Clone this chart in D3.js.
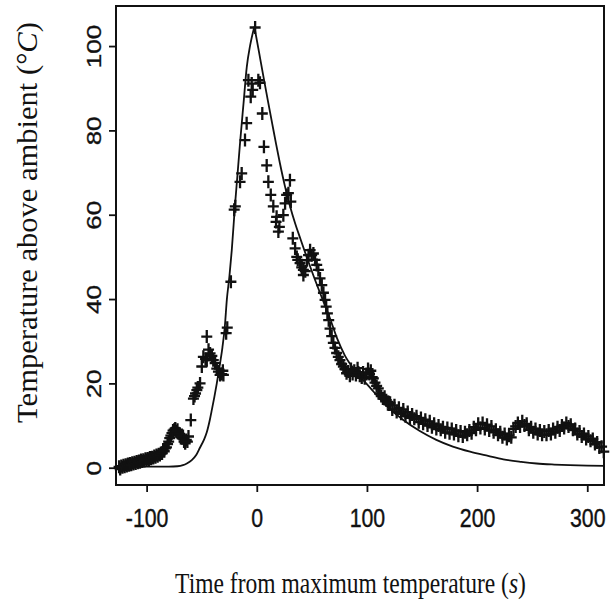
<!DOCTYPE html>
<html><head><meta charset="utf-8">
<script src="https://cdn.jsdelivr.net/npm/d3@7"></script>
<style>html,body{margin:0;padding:0;background:#fff;} svg{display:block}</style>
</head><body>
<svg id="chart" width="613" height="612"></svg>
<script>
// ---- data ----
const xTicks = [-100, 0, 100, 200, 300];
const yTicks = [0, 20, 40, 60, 80, 100];
const xTitleText = "Time from maximum temperature (";
const xTitleVar = "s";
const yTitleText = "Temperature above ambient (°";
const yTitleVar = "C";

// observed temperatures: [time (s), temperature above ambient (°C)]
const observedPre = [
  [-125,0.2],[-124,-0.3],[-123,0.4],[-122,0.1],[-121,0.6],[-120,0.2],[-119,0.7],[-118,0.4],[-117,0.9],[-116,0.6],
  [-115,1.0],[-114,0.7],[-113,1.2],[-112,0.9],[-111,1.3],[-110,1.0],[-109,1.5],[-108,1.2],[-107,1.6],[-106,1.3],
  [-105,1.8],[-104,1.5],[-103,1.9],[-102,1.6],[-101,2.1],[-100,1.8],[-99,2.2],[-98,1.9],[-97,2.4],[-96,2.1],
  [-95,2.5],[-94,2.3],[-93,2.8],[-92,2.5],[-91,3.0],[-90,2.7],[-89,3.2],[-88,3.0],[-87,3.5],[-86,3.4],
  [-85,4.0],[-84,3.9],[-83,4.6],[-82,4.8],[-81,5.6],[-80,6.2],[-79,7.0],[-78,7.6],[-77,8.2],[-76,8.8],
  [-75,9.0],[-74,9.3],[-73,8.6],[-72,9.0],[-71,8.2],[-70,8.0],[-69,7.6],[-68,7.0],[-67,7.5],[-66,6.2],
  [-65,5.8],[-64,6.6],[-63,6.2],[-62,7.4],[-59.9,11.3],[-57.5,16.4],[-56.5,17.0],[-55.6,17.6],[-54.4,18.4],[-53.5,19.0],
  [-51.5,20.0],[-49.9,24.0],[-48.5,26.3],[-46.5,25.8],[-45.4,25.5],[-45.4,31.1],[-43.8,28.0],[-42.4,27.1],[-40.8,26.5],[-39.5,25.5],
  [-37.8,24.8],[-36.3,23.5],[-34.8,22.8],[-33.3,22.0],[-31.8,22.2],[-30.8,23.0],[-30.3,22.0],[-27.8,31.9],[-26.8,33.2],[-23.5,44.1],
  [-20.5,61.2],[-19.5,62.0],[-15.2,67.8],[-13.7,69.8],[-10.7,77.7],[-9.2,81.7],[-7.6,91.9],[-5.5,88.0],[-4.6,91.1],[-3.7,89.6]
];
const observedPost = [
  [-1.5,104.4],[1.4,91.9],[2.9,91.3],[5,84.0],[6.5,76.1],[9,71.7],[10.5,67.8],[12.7,64.7],[15,62.0],[17.5,58.3],
  [18,59.5],[19.6,56.0],[20.5,57.1],[24.1,59.9],[25.7,62.7],[27.1,64.7],[28.7,65.1],[30.1,68.2],[30.9,63.1],[32.7,54.4],
  [34.8,52.0],[36.3,50.0],[37.2,49.3],[39.3,48.5],[40.8,47.5],[42.3,46.9],[42.3,45.7],[44,46.6],[45.6,49.2],[47,50.4],
  [48.4,51.6],[49.8,50.4],[51.4,50.8],[52.9,49.3],[54.4,48.1],[55.9,46.9],[57.4,44.9],[59,43.3],[60.5,41.5],[62,39.8],
  [63,38.2],[64.1,36.6],[65.3,35.0],[66.5,33.0],[68,31.2],[69.5,29.6],[71,28.4],[72.5,27.2],[74,26.3],[75.5,25.5],
  [77,24.6],[78.6,24.0],[80,23.4],[81.5,22.4],[83.1,22.8],[84.5,21.8],[85.5,23.4],[87,22.2],[88.5,23.0],[90,22.0],
  [91.5,23.6],[92.2,22.6],[93.5,21.8],[95.3,21.4],[96.5,22.6],[98,21.2],[99.5,22.2],[101,23.4],[102.3,22.2],[103.5,23.0],
  [104.8,21.5],[105.8,21.2],[107.3,20.2],[108.8,19.4],[110.3,18.8],[111.5,17.6],[113,17.0],[114.5,16.4],[116,16.8],[117.5,16.0],
  [119,15.6],[120,15.0]
];
const observedTail = [
  [121,15.4],[123,13.8],[125,14.8],[127,13.2],[129,14.2],[131,12.8],[133,13.8],[135,12.2],[137,13.2],[139,11.8],
  [141,12.6],[143,11.6],[145,12.2],[147,10.8],[149,11.8],[151,10.4],[153,11.4],[155,10.0],[157,11.0],[159,9.6],
  [161,10.4],[163,9.2],[165,10.0],[167,9.0],[169,9.6],[171,8.4],[173,9.4],[175,8.2],[177,9.2],[179,8.0],
  [181,8.8],[183,7.6],[185,8.6],[187,7.4],[189,8.4],[191,7.8],[193,8.8],[195,8.2],[197,9.6],[199,9.0],
  [201,10.4],[203,9.4],[205,10.6],[207,9.2],[209,10.2],[211,8.8],[213,9.8],[215,8.4],[217,9.0],[219,7.8],
  [221,8.4],[223,7.2],[225,8.0],[227,6.8],[229,7.6],[231,7.2],[233,9.2],[235,9.8],[237,10.6],[239,9.8],
  [241,11.0],[243,10.0],[245,10.4],[247,9.0],[249,9.6],[251,8.4],[253,9.2],[255,8.0],[257,8.8],[259,7.8],
  [261,8.6],[263,7.8],[265,8.8],[267,8.0],[269,9.2],[271,8.4],[273,9.6],[275,8.8],[277,10.0],[279,9.4],
  [281,10.6],[283,9.8],[285,10.2],[287,9.0],[289,9.2],[291,8.0],[293,8.6],[295,7.4],[297,8.0],[299,6.8],
  [301,7.4],[303,6.4],[305,6.8],[307,5.6],[309,6.0],[311,4.8],[313,5.0],[315,3.8]
];

// fitted model curve: [time (s), temperature (°C)]
const fitted = [
  [-128,0.25],[-100,0.25],[-80,0.27],[-72,0.35],[-67,0.6],[-63.5,1.0],[-59,1.8],[-55,3.0],[-51.5,4.8],[-48,6.6],
  [-45.4,8.4],[-42.5,11.5],[-40.8,13.7],[-38.5,16.8],[-36.3,20.0],[-33.5,24.5],[-31.2,28.5],[-29,33.5],[-27.2,39.8],[-24.8,45.5],
  [-22.7,51.6],[-19.7,62.5],[-17.5,69.5],[-15.2,77.0],[-12,86.5],[-9.1,95.0],[-6,100.2],[-2.2,104.6],
  [2,98.6],[6,92.8],[10.1,87.0],[14,81.6],[17.5,76.8],[21,72.2],[25.7,66.6],[30,62.2],[35,57.8],[39.3,54.5],
  [45,50.2],[51.4,45.6],[59,40.4],[66.5,35.4],[73,30.6],[80,26.6],[90.7,22.6],[102.8,19.0],[115,15.4],[133,11.3],
  [148,8.7],[163,6.6],[178,5.0],[193.6,3.8],[210,2.8],[223.8,2.0],[240,1.4],[254,1.0],[270,0.75],[284,0.6],
  [300,0.5],[316,0.45]
];

// ---- drawing ----
const observed = observedPre.concat(observedPost, observedTail);
const svg = d3.select("#chart");
svg.append("rect").attr("width",613).attr("height",612).attr("fill","#fff");

const L=116, R=604, T=6, B=485;
const x = d3.scaleLinear().domain([-127.8, 315.2]).range([L, R]);
const y = d3.scaleLinear().domain([-4.1, 109.5]).range([B, T]);
const ink = "#111";

// x axis
const gx = svg.append("g").attr("transform", `translate(0,${B})`)
  .call(d3.axisBottom(x).tickValues(xTicks).tickSize(7).tickSizeOuter(0).tickFormat(d => String(d)));
gx.select(".domain").remove();
gx.selectAll(".tick line").attr("stroke", ink).attr("stroke-width", 1.8);
gx.selectAll(".tick text")
  .attr("y", 42).attr("dy", null)
  .attr("transform", "scale(0.82,1)")
  .attr("fill", ink).attr("stroke", ink).attr("stroke-width", 0.4)
  .style("font-family", "'Liberation Sans', Arial, sans-serif")
  .style("font-size", "26px");

// y axis
const gy = svg.append("g").attr("transform", `translate(${L},0)`)
  .call(d3.axisLeft(y).tickValues(yTicks).tickSize(7).tickSizeOuter(0).tickFormat(d => String(d)));
gy.select(".domain").remove();
gy.selectAll(".tick line").attr("stroke", ink).attr("stroke-width", 1.8);
gy.selectAll(".tick text")
  .attr("x", 0).attr("y", 0).attr("dy", null)
  .attr("text-anchor", "middle")
  .attr("transform", "translate(-15,0) rotate(-90) scale(1,0.75)")
  .attr("fill", ink).attr("stroke", ink).attr("stroke-width", 0.4)
  .style("font-family", "'Liberation Sans', Arial, sans-serif")
  .style("font-size", "26px");

// frame
svg.append("rect").attr("x", L).attr("y", T).attr("width", R-L).attr("height", B-T)
  .attr("fill", "none").attr("stroke", ink).attr("stroke-width", 2);

// fitted curve (rising and falling branches meet at the peak)
const peakIdx = d3.maxIndex(fitted, d => d[1]);
const line = d3.line().x(d => x(d[0])).y(d => y(d[1])).curve(d3.curveMonotoneX);
[fitted.slice(0, peakIdx + 1), fitted.slice(peakIdx)].forEach(seg => {
  svg.append("path").attr("d", line(seg)).attr("fill", "none")
    .attr("stroke", ink).attr("stroke-width", 1.8);
});

// observed "+" markers
svg.append("g").selectAll("path").data(observed).join("path")
  .attr("transform", d => `translate(${x(d[0])},${y(d[1])})`)
  .attr("d", "M-5.5,0H5.5M0,-6.5V6.5")
  .attr("stroke", ink).attr("stroke-width", 2.3).attr("fill", "none");

// axis titles (scaled to the reference's extents)
function title(text, varName, targetLen, place) {
  const g = svg.append("g");
  const t = g.append("text")
    .attr("x", 0).attr("y", 0)
    .attr("text-anchor", "middle")
    .attr("fill", ink)
    .style("font-family", "'Liberation Serif', 'Times New Roman', serif")
    .style("font-size", "29px");
  t.append("tspan").text(text);
  t.append("tspan").style("font-style", "italic").text(varName);
  t.append("tspan").text(")");
  const len = t.node().getComputedTextLength();
  g.attr("transform", place(targetLen / len));
}
title(xTitleText, xTitleVar, 351, s => `translate(350.5,593) scale(${s},1)`);
title(yTitleText, yTitleVar, 401, s => `translate(37,222.5) rotate(-90) scale(${s},1)`);
</script>
</body></html>
